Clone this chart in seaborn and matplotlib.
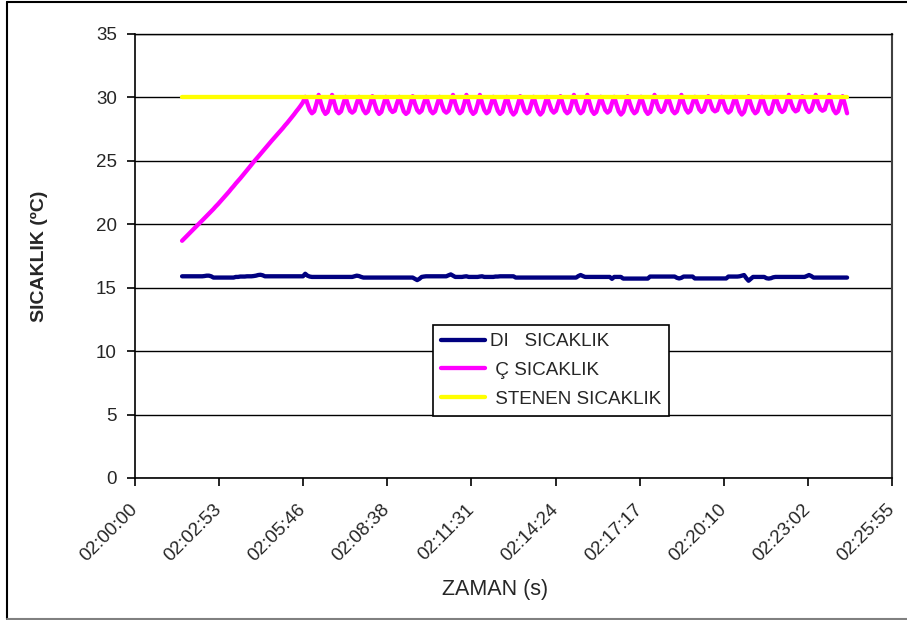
import numpy as np
import pandas as pd
import matplotlib
matplotlib.use("Agg")
import matplotlib.pyplot as plt
import matplotlib.transforms as mtransforms
from matplotlib.lines import Line2D
import seaborn as sns

# ---------------- data ----------------
series_names = ["DI   SICAKLIK", " Ç SICAKLIK", " STENEN SICAKLIK"]
series_colors = ["#000080", "#FF00FF", "#FFFF00"]

start_seconds = 96.7      # first sample: 02:01:36.7 (seconds after 02:00:00)
sample_step = 4.6         # seconds between samples

outside_temp = [
    15.90, 15.90, 15.90, 15.90, 15.90, 15.90, 15.90, 15.90, 15.90, 15.90,
    15.92, 15.95, 15.95, 15.90,
    15.80, 15.80, 15.80, 15.80, 15.80, 15.80, 15.80, 15.80, 15.80, 15.80,
    15.85, 15.85, 15.88, 15.88, 15.88, 15.90, 15.90, 15.90, 15.92, 15.95,
    16.00, 16.02, 15.98,
    15.90, 15.90, 15.90, 15.90, 15.90, 15.90, 15.90, 15.90, 15.90, 15.90,
    15.90, 15.90, 15.90, 15.90, 15.90, 15.90, 15.90, 15.90,
    16.10, 15.95, 15.88,
    15.85, 15.85, 15.85, 15.85, 15.85, 15.85, 15.85, 15.85, 15.85, 15.85,
    15.85, 15.85, 15.85, 15.85, 15.85, 15.85, 15.85, 15.85, 15.85,
    15.90, 15.95, 15.92, 15.85,
    15.80, 15.80, 15.80, 15.80, 15.80, 15.80, 15.80, 15.80, 15.80, 15.80,
    15.80, 15.80, 15.80, 15.80, 15.80, 15.80, 15.80, 15.80, 15.80, 15.80,
    15.80, 15.80, 15.80,
    15.70, 15.60, 15.70,
    15.85, 15.88, 15.90, 15.90, 15.90, 15.90, 15.90, 15.90, 15.90, 15.90,
    15.90, 15.90,
    15.98, 16.05, 15.95,
    15.85, 15.85, 15.85, 15.85, 15.88, 15.90, 15.85, 15.85, 15.85, 15.85,
    15.85, 15.88, 15.90, 15.85, 15.85, 15.85, 15.85, 15.85, 15.88, 15.88,
    15.90, 15.90, 15.90, 15.90, 15.90, 15.90, 15.90,
    15.80, 15.80, 15.80, 15.80, 15.80, 15.80, 15.80, 15.80, 15.80, 15.80,
    15.80, 15.80, 15.80, 15.80, 15.80, 15.80, 15.80, 15.80, 15.80, 15.80,
    15.80, 15.80, 15.80, 15.80, 15.80, 15.80, 15.80, 15.80,
    15.92, 16.00, 15.92,
    15.85, 15.85, 15.85, 15.85, 15.85, 15.85, 15.85, 15.85, 15.85, 15.85,
    15.85, 15.85,
    15.70, 15.85, 15.85, 15.85, 15.85,
    15.72, 15.72, 15.72, 15.72, 15.72, 15.72, 15.72, 15.72, 15.72, 15.72,
    15.72, 15.72,
    15.88, 15.88, 15.88, 15.88, 15.88, 15.88, 15.88, 15.88, 15.88, 15.88,
    15.88, 15.88,
    15.78, 15.73, 15.78, 15.88, 15.88, 15.88, 15.88, 15.88,
    15.73, 15.73, 15.73, 15.73, 15.73, 15.73, 15.73, 15.73, 15.73, 15.73,
    15.73, 15.73, 15.73, 15.73, 15.73,
    15.88, 15.88, 15.88, 15.88, 15.88, 15.90, 15.95, 16.00, 15.75, 15.55,
    15.70,
    15.85, 15.85, 15.85, 15.85, 15.85, 15.85, 15.75, 15.72, 15.75, 15.82,
    15.85, 15.85, 15.85, 15.85, 15.85, 15.85, 15.85, 15.85, 15.85, 15.85,
    15.85, 15.85, 15.85, 15.85,
    15.92, 16.00, 15.92,
    15.80, 15.80, 15.80, 15.80, 15.80, 15.80, 15.80, 15.80, 15.80, 15.80,
    15.80, 15.80, 15.80, 15.80, 15.80, 15.80,
]

inside_temp = [
    # warm-up ramp
    18.70, 18.88, 19.05, 19.25, 19.42, 19.60, 19.78, 19.95, 20.12, 20.30,
    20.48, 20.66, 20.84, 21.02, 21.20, 21.40, 21.58, 21.78, 21.98, 22.18,
    22.38, 22.58, 22.80, 23.00, 23.22, 23.42, 23.62, 23.84, 24.05, 24.26,
    24.48, 24.70, 24.92, 25.12, 25.33, 25.54, 25.74, 25.95, 26.16, 26.37,
    26.58, 26.78, 26.98, 27.18, 27.38, 27.58, 27.80, 28.00, 28.22, 28.44,
    28.66, 28.90, 29.12, 29.36, 29.62,
    # thermostat cycling around the set point
    30.05, 29.50, 29.00, 28.75, 28.90, 29.50,
    30.20, 29.55, 29.00, 28.70, 28.85, 29.45,
    30.20, 29.55, 28.95, 28.75, 28.90, 29.50,
    30.05, 29.45, 28.95, 28.80, 28.95, 29.55,
    30.05, 29.50, 29.00, 28.75, 28.90, 29.50,
    30.10, 29.50, 28.95, 28.70, 28.85, 29.45,
    30.05, 29.55, 29.05, 28.85, 28.95, 29.55,
    30.05, 29.45, 28.90, 28.70, 28.85, 29.50,
    30.10, 29.50, 29.00, 28.80, 28.95, 29.55,
    30.05, 29.50, 28.95, 28.75, 28.90, 29.50,
    30.05, 29.45, 28.95, 28.80, 28.95, 29.55,
    30.20, 29.55, 29.00, 28.75, 28.90, 29.50,
    30.20, 29.55, 28.95, 28.70, 28.85, 29.45,
    30.20, 29.55, 29.00, 28.75, 28.90, 29.50,
    30.05, 29.50, 28.95, 28.70, 28.85, 29.50,
    30.05, 29.45, 28.90, 28.65, 28.85, 29.45,
    30.10, 29.50, 28.95, 28.75, 28.90, 29.50,
    30.05, 29.45, 28.90, 28.65, 28.85, 29.45,
    30.05, 29.50, 29.00, 28.80, 28.95, 29.55,
    30.10, 29.50, 28.95, 28.75, 28.90, 29.50,
    30.20, 29.55, 29.00, 28.75, 28.90, 29.50,
    30.20, 29.55, 28.95, 28.70, 28.85, 29.45,
    30.05, 29.50, 29.00, 28.80, 28.95, 29.55,
    30.05, 29.45, 28.90, 28.65, 28.85, 29.45,
    30.10, 29.50, 29.00, 28.75, 28.90, 29.50,
    30.05, 29.50, 28.95, 28.70, 28.85, 29.50,
    30.20, 29.55, 29.05, 28.85, 29.00, 29.55,
    30.05, 29.50, 28.95, 28.75, 28.90, 29.50,
    30.20, 29.55, 29.05, 28.80, 28.95, 29.55,
    30.05, 29.55, 29.05, 28.85, 29.00, 29.55,
    30.10, 29.55, 29.05, 28.90, 29.00, 29.55,
    30.05, 29.50, 29.00, 28.80, 28.95, 29.50,
    30.05, 29.45, 28.90, 28.65, 28.85, 29.45,
    30.10, 29.50, 29.00, 28.75, 28.90, 29.50,
    30.05, 29.50, 28.95, 28.70, 28.85, 29.50,
    30.05, 29.55, 29.05, 28.85, 29.00, 29.55,
    30.20, 29.55, 29.10, 28.90, 29.00, 29.60,
    30.10, 29.55, 29.05, 28.85, 29.00, 29.55,
    30.20, 29.55, 29.10, 28.95, 29.05, 29.60,
    30.20, 29.55, 29.00, 28.75, 28.90, 29.50,
    30.10, 29.45, 28.75,
]

set_point = 30.0

x_tick_seconds = [0, 172.8, 345.6, 518.4, 691.2, 864.0, 1036.8, 1209.6, 1382.4, 1555.2]
x_tick_labels = ["02:00:00", "02:02:53", "02:05:46", "02:08:38", "02:11:31",
                 "02:14:24", "02:17:17", "02:20:10", "02:23:02", "02:25:55"]
y_ticks = [0, 5, 10, 15, 20, 25, 30, 35]

# ---------------- build table ----------------
n = len(outside_temp)
assert len(inside_temp) == n, (len(inside_temp), n)
times = start_seconds + sample_step * np.arange(n)
df = pd.concat([
    pd.DataFrame({"time": times, "value": outside_temp, "series": series_names[0]}),
    pd.DataFrame({"time": times, "value": inside_temp, "series": series_names[1]}),
    pd.DataFrame({"time": times, "value": [set_point] * n, "series": series_names[2]}),
], ignore_index=True)

# ---------------- plot ----------------
sns.set_theme(style="white")
plt.rcParams["font.family"] = ["Liberation Sans", "DejaVu Sans"]

W, H = 907, 620
fig = plt.figure(figsize=(W / 100, H / 100), dpi=100)
L, R, T, B = 135, 892, 34, 478
ax = fig.add_axes([L / W, 1 - B / H, (R - L) / W, (B - T) / H])

sns.lineplot(data=df, x="time", y="value", hue="series", hue_order=series_names,
             palette=series_colors, linewidth=3.1, sort=False, estimator=None,
             legend=False, ax=ax)
for ln in ax.get_lines():
    ln.set_solid_joinstyle("round")
    ln.set_solid_capstyle("round")

ax.set_xlim(x_tick_seconds[0], x_tick_seconds[-1])
ax.set_ylim(0, 35)
ax.set_yticks(y_ticks)
ax.set_xticks(x_tick_seconds)
ax.set_xticklabels(x_tick_labels, rotation=45, ha="right", va="center",
                   rotation_mode="anchor")
offset = mtransforms.ScaledTranslation(-0.10, 0, fig.dpi_scale_trans)
for lab in ax.get_xticklabels():
    lab.set_transform(lab.get_transform() + offset)

ax.yaxis.grid(True, color="black", linewidth=1.0)
ax.xaxis.grid(False)
ax.set_axisbelow(True)

for side in ["left", "bottom", "top"]:
    ax.spines[side].set_color("black")
    ax.spines[side].set_linewidth(1.2)
ax.spines["top"].set_linewidth(1.0)
ax.spines["right"].set_color("#404040")
ax.spines["right"].set_linewidth(1.5)

ax.tick_params(axis="x", direction="out", length=6, width=1.2, color="black",
               labelsize=13.5, pad=15, bottom=True)
ax.tick_params(axis="y", direction="out", length=6, width=1.2, color="black",
               labelsize=13.5, pad=7, left=True)

ax.set_xlabel("ZAMAN (s)", fontsize=15.5)
ax.set_ylabel("SICAKLIK (ºC)", fontsize=14, fontweight="bold")
ax.xaxis.label.set_va("center")
ax.yaxis.label.set_va("center")
ax.xaxis.set_label_coords((495 - L) / (R - L), (B - 589) / (B - T))
ax.yaxis.set_label_coords((39 - L) / (R - L), 0.5)

handles = [Line2D([0], [0], color=c, lw=3.1) for c in series_colors]
leg = ax.legend(handles, series_names, loc="upper left",
                bbox_to_anchor=((433 - L) / (R - L), 1 - (325 - T) / (B - T)),
                borderaxespad=0, frameon=True, fancybox=False, framealpha=1,
                edgecolor="black", fontsize=13.6, handlelength=2.35,
                handletextpad=0.25, labelspacing=0.62, borderpad=0.42)
leg.get_frame().set_linewidth(1.2)

# outer chart-area border
fig.add_artist(Line2D([7 / W, 7 / W], [1 - 2 / H, 1 - 619 / H], color="black", lw=1.5,
                      transform=fig.transFigure))
fig.add_artist(Line2D([7 / W, 1.0], [1 - 2 / H, 1 - 2 / H], color="black", lw=1.5,
                      transform=fig.transFigure))
fig.add_artist(Line2D([7 / W, 1.0], [1 - 619 / H, 1 - 619 / H], color="#808080", lw=1.5,
                      transform=fig.transFigure))

fig.savefig("out.png", dpi=100)
